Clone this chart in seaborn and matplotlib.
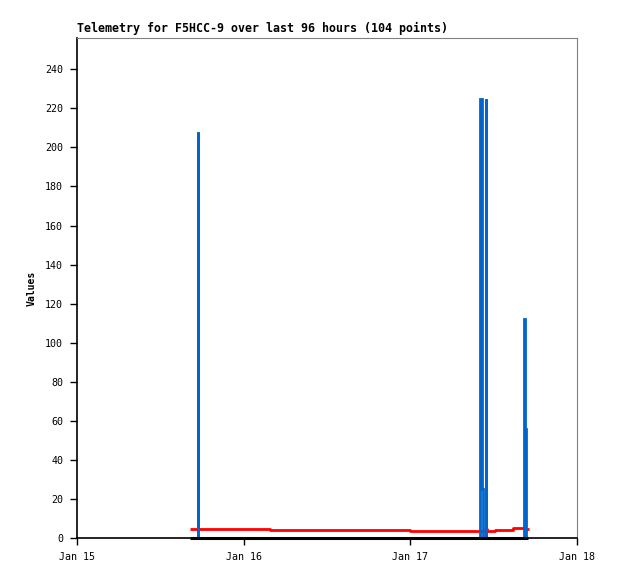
import pandas as pd
import seaborn as sns
import matplotlib.pyplot as plt
import matplotlib.dates as mdates

# hours after Jan 15 00:00 and values
red_hours = [16.3, 27.8, 47.9, 58.7, 59.0, 60.2, 62.8, 64.3, 65.1]
red_values = [4.6, 4.1, 3.7, 4.4, 3.7, 4.2, 4.9, 4.4, 4.4]

blue_hours = [16.3, 17.42, 17.45, 58.1, 58.25, 58.35, 58.45,
              58.85, 58.88, 64.4, 64.58, 64.7, 65.0]
blue_values = [0, 208, 0, 225, 49, 25, 0,
               225, 0, 112, 56, 0, 0]

black_hours = [16.3, 64.9]
black_values = [0, 0]

start = pd.Timestamp('2024-01-15')


def to_frame(hours, values):
    return pd.DataFrame({'time': start + pd.to_timedelta(hours, unit='h'),
                         'value': values})


sns.set_style("white")
plt.rcParams['font.family'] = ['DejaVu Sans Mono']
plt.rcParams['text.color'] = 'black'
plt.rcParams['axes.labelcolor'] = 'black'
plt.rcParams['xtick.color'] = 'black'
plt.rcParams['ytick.color'] = 'black'

fig = plt.figure(figsize=(6.18, 5.79), dpi=100)
ax = fig.add_axes([77 / 618, 41 / 579, 500 / 618, 500 / 579])

sns.lineplot(data=to_frame(red_hours, red_values), x='time', y='value',
             color='#FF0000', linewidth=2, drawstyle='steps-post',
             solid_capstyle='butt', ax=ax, zorder=2)
sns.lineplot(data=to_frame(blue_hours, blue_values), x='time', y='value',
             color='#0066CC', linewidth=2, drawstyle='steps-post',
             solid_capstyle='butt', solid_joinstyle='miter', ax=ax, zorder=3)
sns.lineplot(data=to_frame(black_hours, black_values), x='time', y='value',
             color='black', linewidth=2.2, solid_capstyle='butt',
             clip_on=False, ax=ax, zorder=4)

ax.set_xlim(start, start + pd.Timedelta(days=3))
ax.set_ylim(0, 256)
ax.set_yticks(range(0, 241, 20))
ax.xaxis.set_major_locator(mdates.DayLocator())
ax.xaxis.set_major_formatter(mdates.DateFormatter('%b %d'))

ax.set_xlabel('')
ax.set_ylabel('Values', fontsize=7, fontweight='bold', labelpad=6)
ax.set_title('Telemetry for F5HCC-9 over last 96 hours (104 points)',
             loc='left', fontsize=8.4, fontweight='bold', pad=4)

ax.tick_params(axis='both', direction='out', length=5, width=1, color='black',
               labelsize=7.2, pad=5, bottom=True, left=True)
for side in ['left', 'bottom']:
    ax.spines[side].set_color('black')
    ax.spines[side].set_linewidth(1.2)
for side in ['top', 'right']:
    ax.spines[side].set_color('gray')
    ax.spines[side].set_linewidth(0.8)

fig.savefig('out.png', dpi=100, facecolor='white')
